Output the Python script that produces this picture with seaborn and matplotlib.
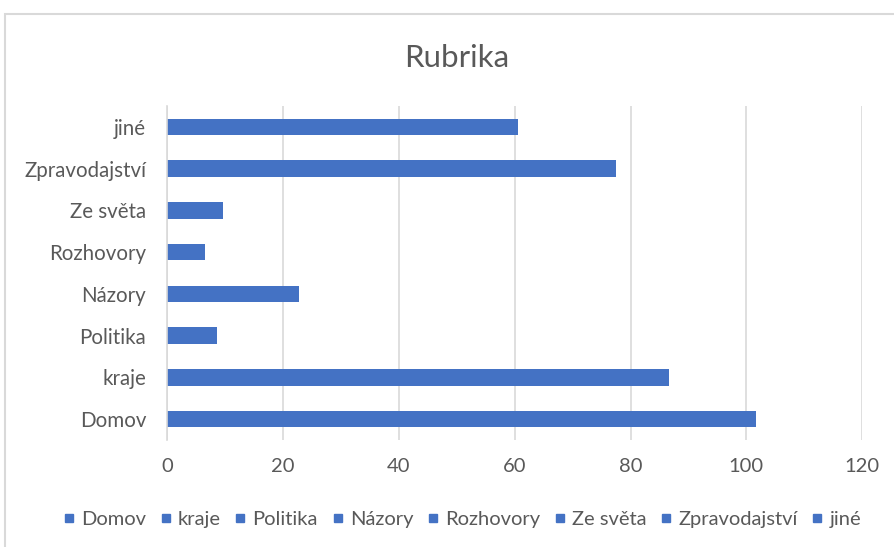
import matplotlib
matplotlib.use("Agg")
import matplotlib.pyplot as plt
from matplotlib.lines import Line2D
from matplotlib.patches import Rectangle
import seaborn as sns
import numpy as np
import pandas as pd

# data
rubriky = ["Domov", "kraje", "Politika", "Názory", "Rozhovory", "Ze světa", "Zpravodajství", "jiné"]
pocty = [101.6, 86.7, 8.6, 22.7, 6.5, 9.6, 77.5, 60.6]
x_ticks = [0, 20, 40, 60, 80, 100, 120]

modra = "#4472C4"
seda_text = "#595959"
seda_mrizka = "#d9d9d9"

sns.set_style("white")
plt.rcParams["font.family"] = ["Lato", "DejaVu Sans"]

df = pd.DataFrame({"rubrika": rubriky, "pocet": pocty})

fig = plt.figure(figsize=(8.95, 5.47), dpi=100)
ax = fig.add_axes([167 / 895, 1 - 440 / 547, (862.3 - 167) / 895, (440 - 106) / 547])

sns.barplot(data=df, x="pocet", y="rubrika", order=rubriky[::-1], orient="h",
            color=modra, saturation=1, width=0.4, linewidth=0, ax=ax)

ax.set_xlim(0, 120)
ax.set_xticks(x_ticks)
ax.set_xlabel("")
ax.set_ylabel("")
ax.set_axisbelow(True)
ax.xaxis.grid(True, color=seda_mrizka, linewidth=1.2)
ax.yaxis.grid(False)

for s in ["top", "right", "bottom"]:
    ax.spines[s].set_visible(False)
ax.spines["left"].set_color(seda_mrizka)
ax.spines["left"].set_linewidth(1.2)

ax.tick_params(axis="x", length=0, pad=13, labelsize=14.5, labelcolor=seda_text)
ax.tick_params(axis="y", which="major", length=0, pad=15, labelsize=14.8, labelcolor=seda_text)
ax.set_yticks(np.arange(-0.5, len(rubriky), 1), minor=True)
ax.tick_params(axis="y", which="minor", length=5, width=1.2, color=seda_mrizka)

# nadpis
fig.text(457 / 895, 1 - 66.5 / 547, "Rubrika", ha="center", va="baseline",
         fontsize=22.5, color=seda_text)

# legenda
handles = [Line2D([], [], marker="s", linestyle="none", markersize=5.8,
                  color=modra) for _ in rubriky]
fig.legend(handles, rubriky, loc="center", bbox_to_anchor=(462 / 895, 1 - 519 / 547),
           ncol=len(rubriky), frameon=False, fontsize=14.5, labelcolor=seda_text,
           handlelength=0.6, handletextpad=0.3, columnspacing=0.68, borderpad=0)

# ramecek grafu
fig.patches.append(Rectangle((5 / 895, -0.1), 1.1, 1 - 14 / 547 + 0.1,
                             transform=fig.transFigure, fill=False,
                             edgecolor=seda_mrizka, linewidth=1.5))

fig.savefig("out.png", dpi=100)
